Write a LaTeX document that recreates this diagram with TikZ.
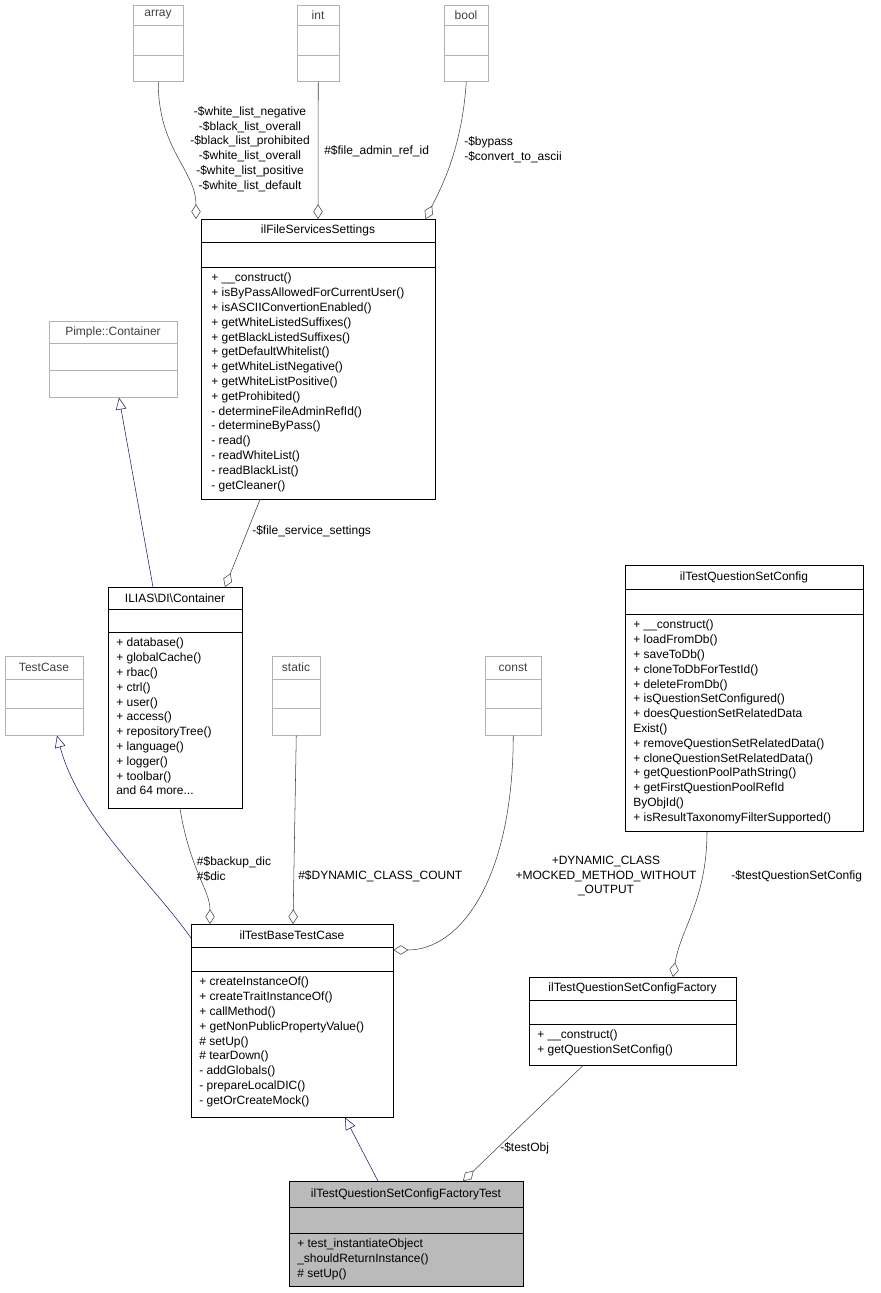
\documentclass[tikz,border=0pt]{standalone}
\usepackage{fontspec}
\setmainfont{Liberation Sans}
\usepackage{xcolor}
\usepackage{tikz}
\usetikzlibrary{arrows.meta}
\usetikzlibrary{calc}
\definecolor{edgeblue}{RGB}{25,25,112}
\newcommand{\umlbox}[9][]{%
  \node[box, #1, minimum width=(#4-#2)*0.75pt, minimum height=(#5-#3)*0.75pt] (#9) at (#2,#3) {};
  \draw[#1] (#2,#6) -- (#4,#6) (#2,#7) -- (#4,#7);
  \node[boxtitle, #1, draw=none, fill=none] at ({(#2+#4)/2},{(#3+#6)/2}) {#8};
}
\newcommand{\members}[3]{\node[members] at (#1,#2) {#3};}

\begin{document}
\begin{tikzpicture}[x=0.75pt, y=-0.75pt, font=\fontsize{9}{11.1}\selectfont,
    box/.style={draw, anchor=north west, inner sep=0pt},
    boxtitle/.style={inner sep=0pt},
    members/.style={anchor=north west, align=left, inner sep=0pt},
    ghost/.style={draw=black!30, text=black!75},
    aggr/.style={-{Diamond[open, length=11pt, width=7pt]}, black!75},
    inherit/.style={{Triangle[open, length=9pt, width=8pt]}-, edgeblue}]
    \useasboundingbox (0,0) rectangle (881,1293);
    % boxes
    \umlbox[ghost]{133}{5}{183}{81}{25}{55}{array}{array}
    \umlbox[ghost]{297}{5}{339}{81}{25}{55}{int}{int}
    \umlbox[ghost]{444}{5}{488}{81}{25}{55}{bool}{bool}
    \umlbox[ghost]{49}{321}{177}{397}{343}{370}{Pimple::Container}{pimple}
    \umlbox[ghost]{5}{656}{83}{735}{679}{708}{TestCase}{testcase}
    \umlbox[ghost]{272}{656}{320}{735}{679}{708}{static}{static}
    \umlbox[ghost]{485}{656}{541}{735}{679}{708}{const}{const}
    \umlbox{201}{219}{435}{499}{242}{267}{ilFileServicesSettings}{settings}
    \members{211}{273}{+ \_\_construct()\\+ isByPassAllowedForCurrentUser()\\+ isASCIIConvertionEnabled()\\+ getWhiteListedSuffixes()\\+ getBlackListedSuffixes()\\+ getDefaultWhitelist()\\+ getWhiteListNegative()\\+ getWhiteListPositive()\\+ getProhibited()\\- determineFileAdminRefId()\\- determineByPass()\\- read()\\- readWhiteList()\\- readBlackList()\\- getCleaner()}
    \umlbox{108}{587}{242}{808}{609}{632}{ILIAS\textbackslash DI\textbackslash Container}{container}
    \members{116}{638}{+ database()\\+ globalCache()\\+ rbac()\\+ ctrl()\\+ user()\\+ access()\\+ repositoryTree()\\+ language()\\+ logger()\\+ toolbar()\\and 64 more...}
    \umlbox{625}{565}{863}{831}{589}{614}{ilTestQuestionSetConfig}{config}
    \members{633}{620}{+ \_\_construct()\\+ loadFromDb()\\+ saveToDb()\\+ cloneToDbForTestId()\\+ deleteFromDb()\\+ isQuestionSetConfigured()\\+ doesQuestionSetRelatedData\\Exist()\\+ removeQuestionSetRelatedData()\\+ cloneQuestionSetRelatedData()\\+ getQuestionPoolPathString()\\+ getFirstQuestionPoolRefId\\ByObjId()\\+ isResultTaxonomyFilterSupported()}
    \umlbox{191}{924}{393}{1117}{947}{971}{ilTestBaseTestCase}{basecase}
    \members{199}{977}{+ createInstanceOf()\\+ createTraitInstanceOf()\\+ callMethod()\\+ getNonPublicPropertyValue()\\\# setUp()\\\# tearDown()\\- addGlobals()\\- prepareLocalDIC()\\- getOrCreateMock()}
    \umlbox{529}{977}{736}{1065}{1000}{1024}{ilTestQuestionSetConfigFactory}{factory}
    \members{537}{1030}{+ \_\_construct()\\+ getQuestionSetConfig()}
    \umlbox[fill=black!27]{289}{1181}{523}{1286}{1207}{1233}{ilTestQuestionSetConfigFactoryTest}{factorytest}
    \members{297}{1239}{+ test\_instantiateObject\\\_shouldReturnInstance()\\\# setUp()}
    % aggregations
    \draw[aggr] (array.south) .. controls (158,150) and (196,170) .. ($(settings.north west)+(-5,0)$);
    \node[align=center, inner sep=0pt] at (250,149) {-\$white\_list\_negative\\-\$black\_list\_overall\\-\$black\_list\_prohibited\\-\$white\_list\_overall\\-\$white\_list\_positive\\-\$white\_list\_default};
    \draw[aggr] (int.south) -- ($(settings.north west)+(117,0)$);
    \node[anchor=west, inner sep=0pt] at (324,151) {\#\$file\_admin\_ref\_id};
    \draw[aggr] (bool.south) .. controls (462,150) and (440,190) .. ($(settings.north east)+(-10,0)$);
    \node[align=left, inner sep=0pt] at (513,150) {-\$bypass\\-\$convert\_to\_ascii};
    \draw[aggr] ($(settings.south west)+(59,0)$) -- ($(container.north west)+(117,0)$);
    \node[anchor=west, inner sep=0pt] at (252,531) {-\$file\_service\_settings};
    \draw[aggr] ($(container.south west)+(72,0)$) .. controls (190,870) and (210,890) .. ($(basecase.north west)+(19,0)$);
    \node[align=left, inner sep=0pt] at (234,869) {\#\$backup\_dic\\\#\$dic};
    \draw[aggr] (static.south) -- ($(basecase.north west)+(102,0)$);
    \node[anchor=west, inner sep=0pt] at (298,876) {\#\$DYNAMIC\_CLASS\_COUNT};
    \draw[aggr] (const.south) .. controls (513,880) and (460,950) .. ($(basecase.north east)+(0,26)$);
    \node[align=center, inner sep=0pt] at (606,876) {+DYNAMIC\_CLASS\\+MOCKED\_METHOD\_WITHOUT\\\_OUTPUT};
    \draw[aggr] ($(config.south west)+(82,0)$) .. controls (707,900) and (680,930) .. ($(factory.north west)+(144,0)$);
    \node[anchor=west, inner sep=0pt] at (731,876) {-\$testQuestionSetConfig};
    \draw[aggr] ($(factory.south west)+(54,0)$) -- ($(factorytest.north west)+(174,0)$);
    \node[anchor=west, inner sep=0pt] at (500,1148) {-\$testObj};
    % inheritance
    \draw[inherit] ($(pimple.south west)+(70,0)$) -- ($(container.north west)+(45,0)$);
    \draw[inherit] ($(testcase.south west)+(52,0)$) .. controls (80,820) and (150,880) .. ($(basecase.north west)+(0,14)$);
    \draw[inherit] ($(basecase.south west)+(154,0)$) -- ($(factorytest.north west)+(89,0)$);
\end{tikzpicture}
\end{document}
